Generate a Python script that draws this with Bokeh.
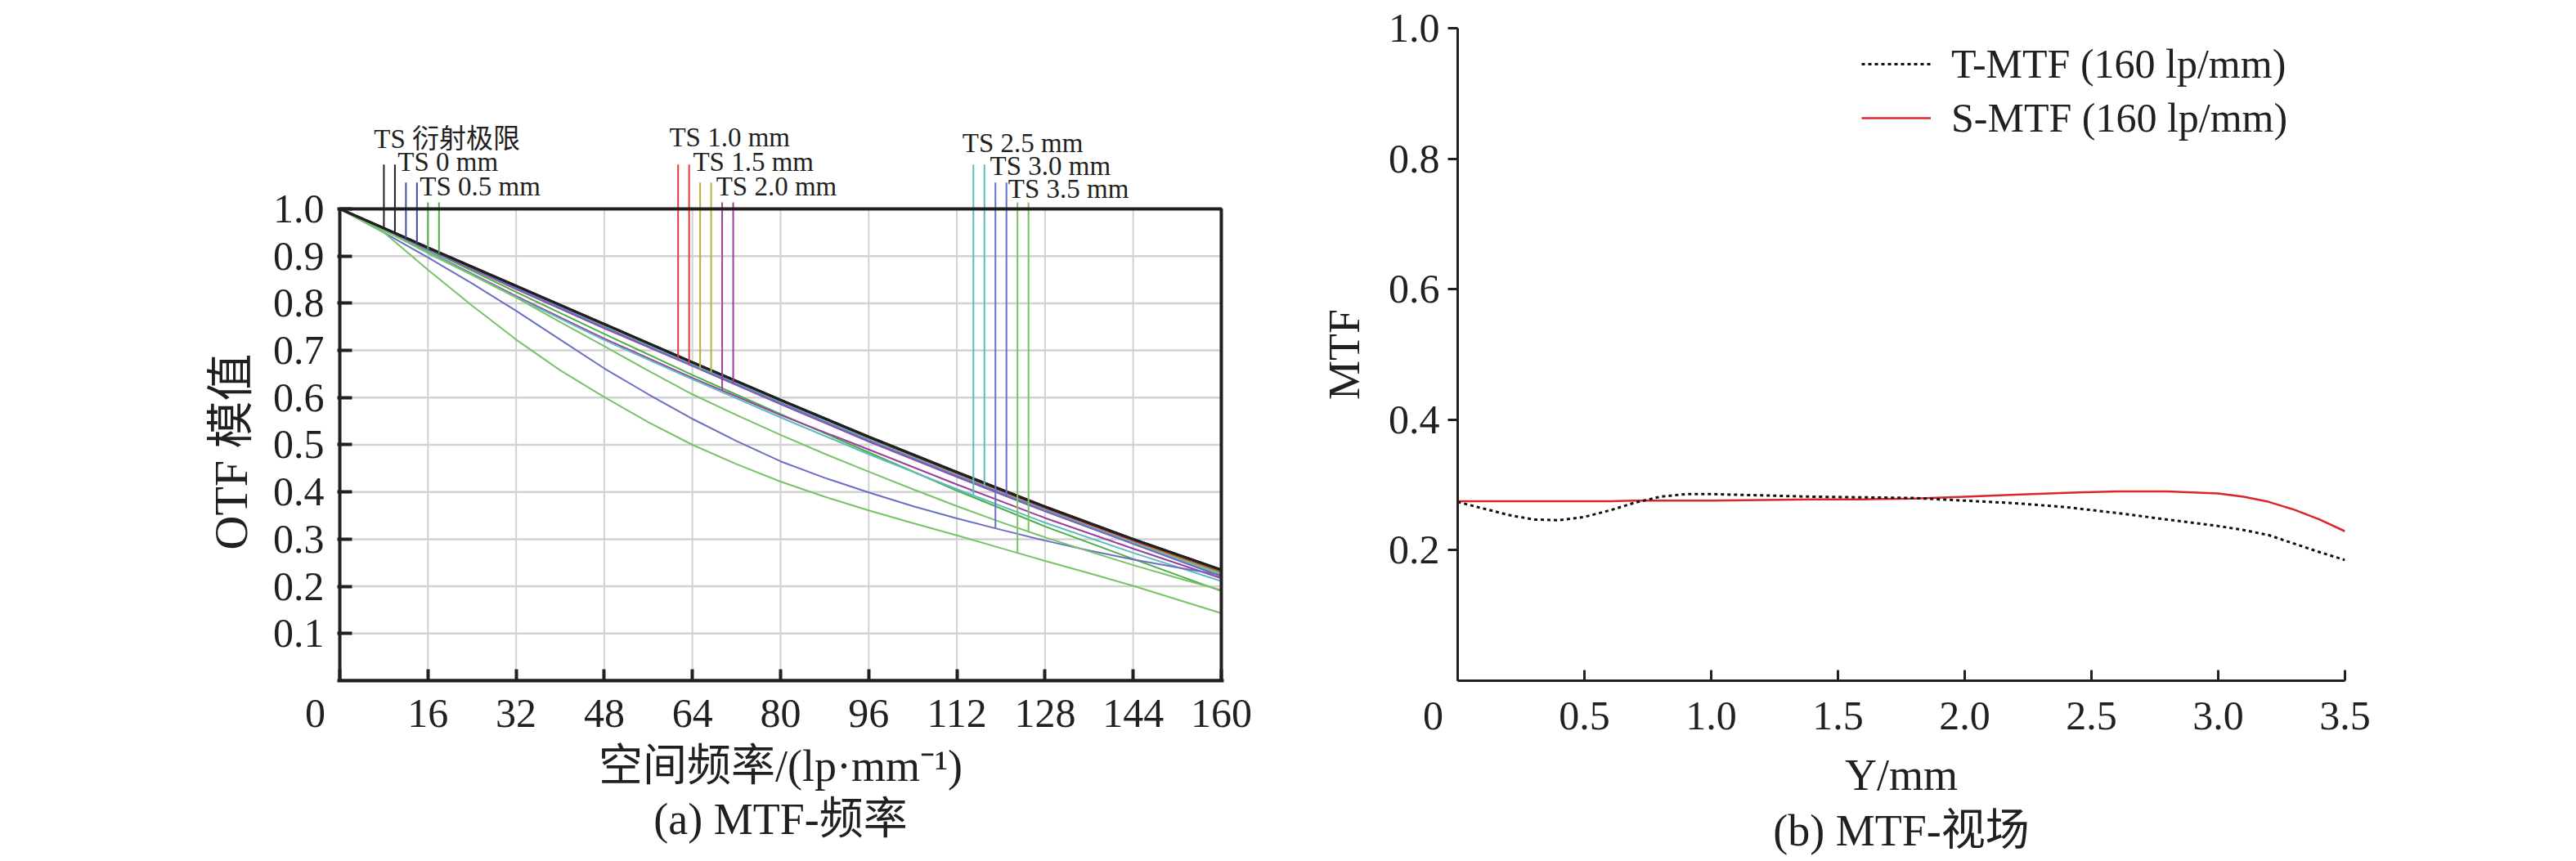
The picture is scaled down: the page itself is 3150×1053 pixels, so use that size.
import numpy as np
from bokeh.plotting import figure
from bokeh.models import FixedTicker, Title, Legend, LegendItem, Range1d, PrintfTickFormatter
from bokeh.layouts import row
from bokeh.embed import file_html
from bokeh.resources import INLINE
from bokeh.core.properties import value

SERIF = "Liberation Serif, Noto Sans CJK SC"
INK = "#231f20"

# ------------------------------------------------------------------ data (a)
freq_coarse = [0, 16, 32, 48, 64, 80, 96, 112, 128, 144, 160]
freq_fine = [0, 8, 16, 24, 32, 40, 48, 56, 64, 72, 80, 88, 96, 104, 112, 120, 128, 136, 144, 152, 160]

diffraction = [1.000, 0.918, 0.837, 0.756, 0.675, 0.595, 0.517, 0.442, 0.369, 0.300, 0.235]
mm00_t = [1.000, 0.917, 0.835, 0.753, 0.672, 0.592, 0.514, 0.439, 0.366, 0.297, 0.232]
mm00_s = [1.000, 0.917, 0.834, 0.752, 0.671, 0.591, 0.513, 0.438, 0.365, 0.296, 0.231]
mm05_t = [1.000, 0.914, 0.824, 0.735, 0.648, 0.565, 0.484, 0.403, 0.327, 0.258, 0.190]
mm05_s = [1.000, 0.916, 0.833, 0.751, 0.670, 0.590, 0.512, 0.437, 0.364, 0.295, 0.230]
mm10_t = [1.000, 0.917, 0.833, 0.751, 0.670, 0.590, 0.512, 0.437, 0.364, 0.295, 0.229]
mm10_s = [1.000, 0.916, 0.832, 0.750, 0.669, 0.589, 0.511, 0.436, 0.363, 0.294, 0.228]
mm15_t = [1.000, 0.916, 0.831, 0.749, 0.668, 0.587, 0.509, 0.434, 0.361, 0.292, 0.226]
mm15_s = [1.000, 0.917, 0.833, 0.751, 0.671, 0.590, 0.511, 0.436, 0.362, 0.293, 0.227]
mm20_t = [1.000, 0.910, 0.815, 0.725, 0.642, 0.563, 0.490, 0.416, 0.345, 0.280, 0.217]
mm20_s = [1.000, 0.915, 0.830, 0.747, 0.667, 0.586, 0.507, 0.432, 0.359, 0.290, 0.222]
mm25_t = [1.000, 0.909, 0.813, 0.722, 0.639, 0.558, 0.480, 0.406, 0.335, 0.271, 0.211]
mm25_s = [1.000, 0.916, 0.832, 0.750, 0.670, 0.590, 0.511, 0.435, 0.362, 0.292, 0.224]
mm30_s = [1.000, 0.916, 0.832, 0.749, 0.668, 0.588, 0.509, 0.434, 0.360, 0.290, 0.221]
mm30_t = [1.000, 0.950, 0.897, 0.842, 0.784, 0.723, 0.662, 0.607, 0.555, 0.508, 0.465,
          0.430, 0.399, 0.370, 0.344, 0.320, 0.297, 0.276, 0.257, 0.240, 0.224]
mm35_t = [1.000, 0.950, 0.871, 0.795, 0.723, 0.658, 0.601, 0.548, 0.500, 0.459, 0.422,
          0.390, 0.361, 0.334, 0.308, 0.281, 0.254, 0.228, 0.201, 0.172, 0.143]
mm35_s = [1.000, 0.955, 0.906, 0.860, 0.812, 0.760, 0.709, 0.657, 0.607, 0.563, 0.521,
          0.481, 0.443, 0.406, 0.370, 0.336, 0.304, 0.274, 0.245, 0.218, 0.192]

field_names = ["衍射极限", "0 mm", "0.5 mm", "1.0 mm", "1.5 mm", "2.0 mm", "2.5 mm", "3.0 mm", "3.5 mm"]
field_colors = ["#231f20", "#3f4fa2", "#4cae45", "#e2383f", "#b4b23a", "#9c3f9c", "#5cbcbf", "#6a6fc4", "#78c268"]
# (T curve, S curve) per field with their frequency grids
field_curves = [
    ((freq_coarse, diffraction), (freq_coarse, diffraction)),
    ((freq_coarse, mm00_t), (freq_coarse, mm00_s)),
    ((freq_coarse, mm05_t), (freq_coarse, mm05_s)),
    ((freq_coarse, mm10_t), (freq_coarse, mm10_s)),
    ((freq_coarse, mm15_t), (freq_coarse, mm15_s)),
    ((freq_coarse, mm20_t), (freq_coarse, mm20_s)),
    ((freq_coarse, mm25_t), (freq_coarse, mm25_s)),
    ((freq_fine, mm30_t), (freq_coarse, mm30_s)),
    ((freq_fine, mm35_t), (freq_fine, mm35_s)),
]
# frequencies at which the T / S leader lines of each field are taken
marker_freq_t = [8, 12, 16, 61.4, 65.4, 69.4, 115, 119, 123]
marker_freq_s = [10, 14, 18, 63.4, 67.4, 71.4, 117, 121, 125]

x_ticks_a = [0, 16, 32, 48, 64, 80, 96, 112, 128, 144, 160]
y_ticks_a = [0.1, 0.2, 0.3, 0.4, 0.5, 0.6, 0.7, 0.8, 0.9, 1.0]

# ------------------------------------------------------------------ data (b)
field_y = [0, 0.1, 0.2, 0.3, 0.4, 0.5, 0.6, 0.7, 0.8, 0.9, 1.0, 1.2, 1.4, 1.6, 1.8,
           2.0, 2.2, 2.4, 2.6, 2.8, 3.0, 3.1, 3.2, 3.3, 3.4, 3.5]
mtf_t = [0.274, 0.264, 0.254, 0.247, 0.246, 0.251, 0.261, 0.273, 0.282, 0.286, 0.286,
         0.284, 0.282, 0.281, 0.280, 0.276, 0.272, 0.266, 0.257, 0.247, 0.237, 0.231,
         0.223, 0.210, 0.197, 0.185]
mtf_s = [0.275, 0.275, 0.275, 0.275, 0.275, 0.275, 0.275, 0.276, 0.276, 0.276, 0.276,
         0.277, 0.278, 0.278, 0.279, 0.282, 0.285, 0.288, 0.290, 0.290, 0.287, 0.282,
         0.274, 0.262, 0.247, 0.229]
x_ticks_b = [0, 0.5, 1.0, 1.5, 2.0, 2.5, 3.0, 3.5]
y_ticks_b = [0.2, 0.4, 0.6, 0.8, 1.0]

# ------------------------------------------------------------------ layout constants
marker_top = [1.094, 1.056, 1.014]          # top of leader lines, by position in group
label_x = [6.2, 10.5, 14.5, 59.8, 64.1, 68.3, 113.0, 118.0, 121.3]
label_y = [1.149, 1.099, 1.047, 1.152, 1.099, 1.047, 1.140, 1.091, 1.042]
ZERO_LABEL = "0\u2002\u2002\u2009"
H = 1052


def style_axis(ax, size="50px"):
    ax.major_label_text_font = SERIF
    ax.major_label_text_font_size = size
    ax.major_label_text_color = INK
    ax.axis_label_text_font = SERIF
    ax.axis_label_text_font_style = "normal"
    ax.axis_label_text_color = INK
    ax.minor_tick_line_color = None
    ax.major_tick_line_color = INK


# ------------------------------------------------------------------ figure (a)
p1 = figure(width=1590, height=H, x_range=Range1d(-0.45, 160.45), y_range=Range1d(0, 1.383),
            output_backend="svg", toolbar_location=None,
            min_border_left=412, min_border_right=94, min_border_top=34, min_border_bottom=H - 832)
p1.outline_line_color = None
p1.grid.visible = False

x0, x1 = x_ticks_a[0], x_ticks_a[-1]
y_top = y_ticks_a[-1]
# grid
p1.segment(x0=x_ticks_a[1:-1], y0=[0] * (len(x_ticks_a) - 2), x1=x_ticks_a[1:-1],
           y1=[y_top] * (len(x_ticks_a) - 2), line_color="#d2d2d2", line_width=2)
p1.segment(x0=[x0] * (len(y_ticks_a) - 1), y0=y_ticks_a[:-1], x1=[x1] * (len(y_ticks_a) - 1),
           y1=y_ticks_a[:-1], line_color="#d2d2d2", line_width=2.5)

# curves (diffraction last so it lies on top)
order = list(range(1, len(field_names))) + [0]
for i in order:
    for (g, v) in field_curves[i]:
        p1.line(g, v, line_color=field_colors[i], line_width=3 if i == 0 else 2)

# leader lines
for i in range(len(field_names)):
    top = marker_top[i % 3]
    (gt, vt), (gs, vs) = field_curves[i]
    bt = float(np.interp(marker_freq_t[i], gt, vt))
    bs = float(np.interp(marker_freq_s[i], gs, vs))
    p1.segment(x0=[marker_freq_t[i], marker_freq_s[i]], y0=[bt, bs],
               x1=[marker_freq_t[i], marker_freq_s[i]], y1=[top, top],
               line_color=field_colors[i], line_width=2)

p1.text(x=label_x, y=label_y, text=["TS " + n for n in field_names],
        text_font=value(SERIF), text_font_size=value("33px"), text_color=INK,
        text_align="left", text_baseline="middle")

# frame
p1.quad(left=[x0], right=[x1], bottom=[0], top=[y_top], fill_color=None,
        line_color=INK, line_width=4)

style_axis(p1.xaxis)
p1.xaxis.ticker = FixedTicker(ticks=x_ticks_a)
p1.xaxis.major_label_overrides = {0: ZERO_LABEL}
p1.xaxis.axis_line_color = INK
p1.xaxis.axis_line_width = 4
p1.xaxis.major_tick_in = 14
p1.xaxis.major_tick_out = 0
p1.xaxis.major_tick_line_width = 4
p1.xaxis.major_label_standoff = 11
p1.xaxis.axis_label = "空间频率/(lp·mm⁻¹)"
p1.xaxis.axis_label_text_font_size = "54px"
p1.xaxis.axis_label_standoff = 4

style_axis(p1.yaxis)
p1.yaxis.ticker = FixedTicker(ticks=y_ticks_a)
p1.yaxis.formatter = PrintfTickFormatter(format="%.1f")
p1.yaxis.axis_line_color = None
p1.yaxis.major_tick_in = 18
p1.yaxis.major_tick_out = 0
p1.yaxis.major_tick_line_width = 4
p1.yaxis.major_label_standoff = 16

p1.add_layout(Title(text="OTF 模值", align="left", offset=160, text_font=SERIF,
                    text_font_size="58px", text_font_style="normal", text_color=INK,
                    standoff=31), "left")
p1.add_layout(Title(text="(a) MTF-频率", align="center", text_font=SERIF,
                    text_font_size="54px", text_font_style="normal", text_color=INK,
                    standoff=0), "below")

# ------------------------------------------------------------------ figure (b)
p2 = figure(width=1558, height=H, x_range=Range1d(0, 3.5), y_range=Range1d(0, 1.0),
            output_backend="svg", toolbar_location=None,
            min_border_left=192, min_border_right=281, min_border_top=34, min_border_bottom=H - 832)
p2.outline_line_color = None
p2.grid.visible = False

r_s = p2.line(field_y, mtf_s, line_color="#d8262c", line_width=2.5)
r_t = p2.line(field_y, mtf_t, line_color="#111111", line_width=3, line_dash="4 4")

style_axis(p2.xaxis)
p2.xaxis.ticker = FixedTicker(ticks=x_ticks_b)
p2.xaxis.formatter = PrintfTickFormatter(format="%.1f")
p2.xaxis.major_label_overrides = {0: ZERO_LABEL}
p2.xaxis.axis_line_color = INK
p2.xaxis.axis_line_width = 3
p2.xaxis.major_tick_in = 13
p2.xaxis.major_tick_out = 0
p2.xaxis.major_tick_line_width = 3
p2.xaxis.major_label_standoff = 14
p2.xaxis.axis_label = "Y/mm"
p2.xaxis.axis_label_text_font_size = "54px"
p2.xaxis.axis_label_standoff = 12

style_axis(p2.yaxis)
p2.yaxis.ticker = FixedTicker(ticks=y_ticks_b)
p2.yaxis.formatter = PrintfTickFormatter(format="%.1f")
p2.yaxis.axis_line_color = INK
p2.yaxis.axis_line_width = 3
p2.yaxis.major_tick_in = 0
p2.yaxis.major_tick_out = 12
p2.yaxis.major_tick_line_width = 3
p2.yaxis.major_label_standoff = 10
p2.yaxis.axis_label = "MTF"
p2.yaxis.axis_label_text_font_size = "54px"
p2.yaxis.axis_label_standoff = 21

legend = Legend(items=[LegendItem(label="T-MTF (160 lp/mm)", renderers=[r_t]),
                       LegendItem(label="S-MTF (160 lp/mm)", renderers=[r_s])],
                location=(494, 659), label_text_font=SERIF, label_text_font_size="50px",
                label_text_color=INK, glyph_width=85, glyph_height=56, label_height=56,
                label_standoff=25, spacing=8, padding=0, margin=0, border_line_color=None,
                background_fill_alpha=0)
p2.add_layout(legend)

p2.add_layout(Title(text="(b) MTF-视场", align="center", text_font=SERIF,
                    text_font_size="54px", text_font_style="normal", text_color=INK,
                    standoff=6), "below")

layout = row(p1, p2)
open("out.html", "w").write(file_html(layout, INLINE))
